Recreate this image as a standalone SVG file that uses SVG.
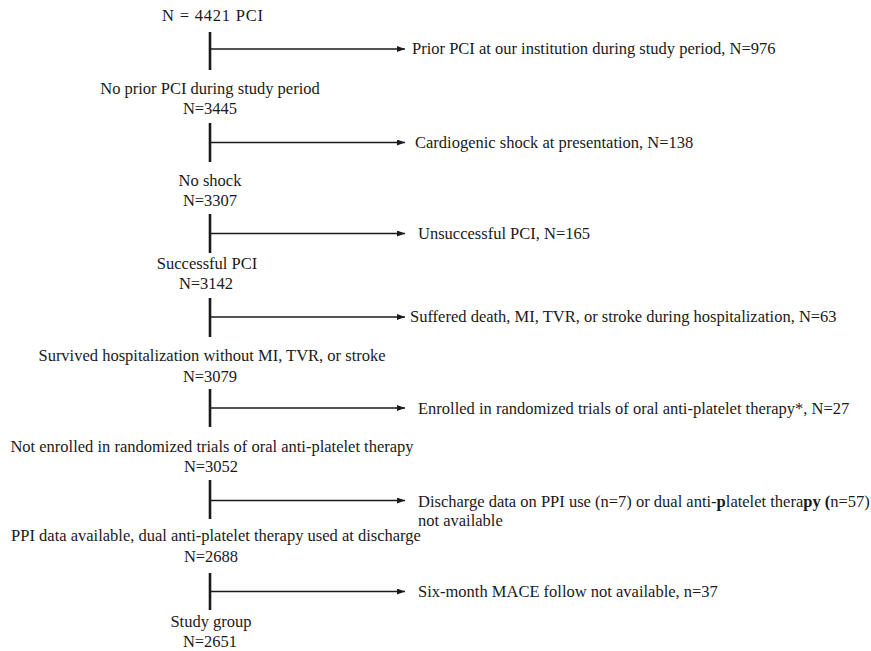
<svg xmlns="http://www.w3.org/2000/svg" width="871" height="651" viewBox="0 0 871 651">
<style>
text{font-family:"Liberation Serif","Times New Roman",serif;font-size:16.5px;fill:#1a1a1a}
.c{text-anchor:middle}
.v{stroke:#1a1a1a;stroke-width:2.6;fill:none}
.h{stroke:#1a1a1a;stroke-width:1.6;fill:none;marker-end:url(#ah)}
</style>
<defs>
<marker id="ah" markerUnits="userSpaceOnUse" markerWidth="8" markerHeight="6" refX="8" refY="3" orient="auto">
<path d="M0,0 L8,3 L0,6 z" fill="#1a1a1a"/>
</marker>
</defs>
<rect width="871" height="651" fill="#fff"/>
<g id="connectors">
<line class="v" x1="210" y1="32" x2="210" y2="70"/>
<line class="h" x1="210" y1="49" x2="405" y2="49"/>
<line class="v" x1="210" y1="123" x2="210" y2="162"/>
<line class="h" x1="210" y1="142.5" x2="405" y2="142.5"/>
<line class="v" x1="210" y1="214" x2="210" y2="253"/>
<line class="h" x1="210" y1="233.5" x2="405" y2="233.5"/>
<line class="v" x1="210" y1="298" x2="210" y2="337"/>
<line class="h" x1="210" y1="317" x2="405" y2="317"/>
<line class="v" x1="210" y1="389" x2="210" y2="427"/>
<line class="h" x1="210" y1="408" x2="405" y2="408"/>
<line class="v" x1="210" y1="480" x2="210" y2="519"/>
<line class="h" x1="210" y1="500.5" x2="405" y2="500.5"/>
<line class="v" x1="210" y1="573" x2="210" y2="610"/>
<line class="h" x1="210" y1="591.5" x2="405" y2="591.5"/>
</g>
<g id="n-total"><text class="c" x="212.5" y="21" textLength="101" lengthAdjust="spacing">N = 4421 PCI</text></g>
<g id="x-prior"><text x="412" y="54">Prior PCI at our institution during study period, N=976</text></g>
<g id="n-noprior"><text class="c" x="210" y="94">No prior PCI during study period</text><text class="c" x="210" y="113.5">N=3445</text></g>
<g id="x-shock"><text x="415" y="147.5">Cardiogenic shock at presentation, N=138</text></g>
<g id="n-noshock"><text class="c" x="210" y="186">No shock</text><text class="c" x="210" y="206">N=3307</text></g>
<g id="x-unsucc"><text x="418" y="238.5">Unsuccessful PCI, N=165</text></g>
<g id="n-succ"><text class="c" x="207" y="268.5">Successful PCI</text><text class="c" x="206" y="288.5">N=3142</text></g>
<g id="x-events"><text x="410" y="322">Suffered death, MI, TVR, or stroke during hospitalization, N=63</text></g>
<g id="n-survived"><text class="c" x="212" y="361">Survived hospitalization without MI, TVR, or stroke</text><text class="c" x="210" y="382">N=3079</text></g>
<g id="x-trials"><text x="418" y="414">Enrolled in randomized trials of oral anti-platelet therapy*, N=27</text></g>
<g id="n-notenrolled"><text class="c" x="212" y="452">Not enrolled in randomized trials of oral anti-platelet therapy</text><text class="c" x="211" y="472">N=3052</text></g>
<g id="x-discharge"><text x="418" y="506.5">Discharge data on PPI use (n=7) or dual anti-<tspan font-weight="bold">p</tspan>latelet thera<tspan font-weight="bold">py (</tspan>n=57)</text><text x="418" y="526">not available</text></g>
<g id="n-ppi"><text class="c" x="216" y="541">PPI data available, dual anti-platelet therapy used at discharge</text><text class="c" x="211" y="562">N=2688</text></g>
<g id="x-mace"><text x="418" y="597">Six-month MACE follow not available, n=37</text></g>
<g id="n-study"><text class="c" x="211" y="627">Study group</text><text class="c" x="210" y="647">N=2651</text></g>
</svg>
